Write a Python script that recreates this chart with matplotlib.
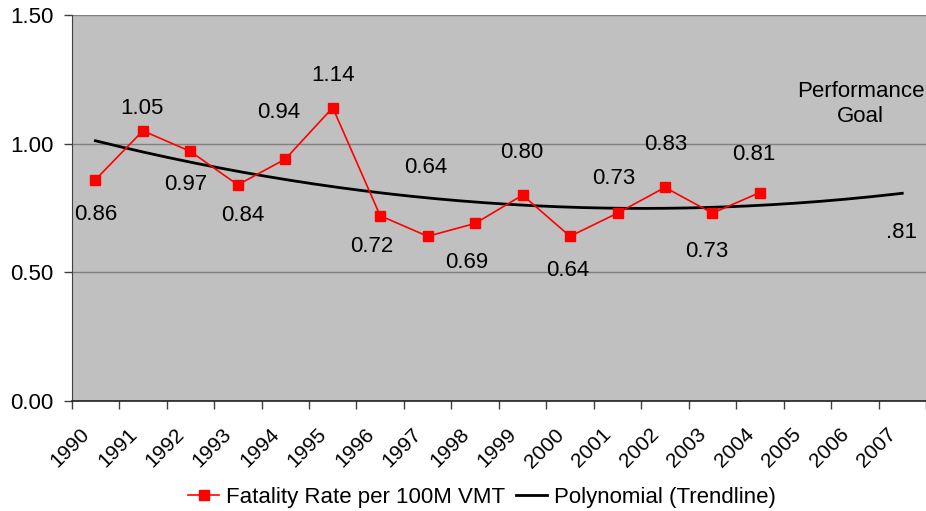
import numpy as np
import matplotlib
matplotlib.use("Agg")
import matplotlib.pyplot as plt
from matplotlib.transforms import ScaledTranslation

plt.rcParams['font.family'] = ['Liberation Sans', 'DejaVu Sans']

years = [str(y) for y in range(1990, 2008)]
rate_years = years[:15]
rates = [0.86, 1.05, 0.97, 0.84, 0.94, 1.14, 0.72, 0.64, 0.69, 0.80, 0.64, 0.73, 0.83, 0.73, 0.81]
rate_labels = ["0.86", "1.05", "0.97", "0.84", "0.94", "1.14", "0.72", "0.64", "0.69", "0.80",
               "0.64", "0.73", "0.83", "0.73", "0.81"]
goal_label = ".81"
y_ticks = [0.0, 0.5, 1.0, 1.5]
y_ticklabels = ["0.00", "0.50", "1.00", "1.50"]

# label offsets in pixels (dx, dy)
label_offsets = [(0, -35), (-1, 22), (-5, -33), (5, -31), (-7, 47), (0, 32), (-8, -31), (-2, 69),
                 (-8, -39), (-1, 43), (-2, -34), (-4, 35), (1, 43), (-6, -38), (-6, 38)]

fig = plt.figure(figsize=(9.26, 5.11), dpi=100)
ax = fig.add_axes([71.7 / 926, 1 - 401 / 511, 1 - 71.7 / 926, (401 - 15) / 511])
ax.set_facecolor('#C0C0C0')

n = len(years)
xs = np.arange(n)
xr = np.arange(len(rates))

# polynomial trendline (order 2) fitted on the data and projected forward
coef = np.polyfit(xr, rates, 2)
xt = np.linspace(0, n - 1, 200)
ax.plot(xt, np.polyval(coef, xt), color='black', lw=2.0, zorder=3, label='Polynomial (Trendline)')

ax.plot(xr, rates, color='#FF0000', lw=1.2, marker='s', markersize=6.5, zorder=4,
        label='Fatality Rate per 100M VMT')

for x, v, lab, (dx, dy) in zip(xr, rates, rate_labels, label_offsets):
    ax.annotate(lab, (x, v), xytext=(dx, dy), textcoords='offset pixels',
                ha='center', va='center', fontsize=16, color='black', zorder=5)

ax.annotate(goal_label, (n - 1, np.polyval(coef, n - 1)), xytext=(-1, -39), textcoords='offset pixels',
            ha='center', va='center', fontsize=16)
ax.text(16.12, 1.154, "Performance\nGoal", ha='center', va='center', fontsize=16,
        linespacing=1.2)

ax.set_xlim(-0.5, n - 0.5)
ax.set_ylim(0, 1.5)
ax.set_yticks(y_ticks)
ax.set_yticklabels(y_ticklabels, fontsize=16)
ax.yaxis.grid(True, color='#808080', lw=1.0)
ax.set_axisbelow(True)

ax.set_xticks(np.arange(-0.5, n, 1.0))
ax.set_xticklabels([])
ax.set_xticks(xs, minor=True)
ax.set_xticklabels(years, minor=True, rotation=45, ha='right', va='center',
                   rotation_mode='anchor', fontsize=15)
ax.tick_params(axis='x', which='minor', length=0, pad=22)
ax.tick_params(axis='x', which='major', length=6, width=1, color='#404040', direction='out')
ax.tick_params(axis='y', length=6, width=1, color='#404040', direction='out', pad=7)
shift = ScaledTranslation(-9 / 100, 0, fig.dpi_scale_trans)
for lbl in ax.get_xticklabels(minor=True):
    lbl.set_transform(lbl.get_transform() + shift)

for s in ['top', 'right']:
    ax.spines[s].set_visible(False)
ax.spines['left'].set_color('#404040')
ax.spines['bottom'].set_color('#202020')
ax.spines['bottom'].set_linewidth(1.2)

handles, labels = ax.get_legend_handles_labels()
leg = fig.legend(handles[::-1], labels[::-1], loc='center', bbox_to_anchor=(482 / 926, 1 - 497 / 511),
                 ncol=2, frameon=False, fontsize=16, handlelength=1.4, handletextpad=0.3,
                 columnspacing=0.5, borderaxespad=0)

fig.savefig('out.png', dpi=100)
